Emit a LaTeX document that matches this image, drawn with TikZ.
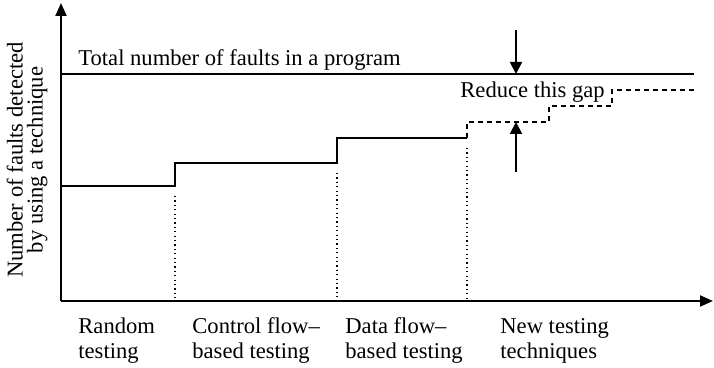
\documentclass[tikz,border=0pt]{standalone}
\usepackage{fontspec}
\setmainfont{Liberation Serif}
\usetikzlibrary{arrows.meta,positioning}

\begin{document}
\begin{tikzpicture}[
  x=0.5pt, y=-0.5pt,
  axis/.style={line width=1pt, -{Triangle[length=6.5pt,width=5.5pt]}},
  level/.style={line width=1pt},
  newlevel/.style={line width=0.9pt, dash pattern=on 2.5pt off 2pt},
  split/.style={line width=0.8pt, dash pattern=on 0.6pt off 1.6pt},
  gaparrow/.style={line width=1pt, -{Triangle[length=6pt,width=6pt]}},
  lbl/.style={font=\fontsize{11.3}{12.5}\selectfont, inner sep=0pt, align=left, anchor=base west}
]
  \useasboundingbox (0,0) rectangle (714,368);

  % Axes
  \coordinate (origin) at (61,301);
  \coordinate (ytop) at (61,3);
  \coordinate (xend) at (713,301);
  \draw[axis] (origin) -- (ytop);
  \draw[axis] (origin) -- (xend);
  \node[lbl, rotate=90, align=center, anchor=center,
        font=\fontsize{11.3}{10}\selectfont] (ylabel) at (27,160)
    {Number of faults detected\\by using a technique};

  % Total number of faults
  \coordinate (tot0) at (61,74);
  \coordinate (tot1) at (694,74);
  \draw[level] (tot0) -- (tot1);
  \node[lbl] (total) at (78,66) {Total number of faults in a program};

  % Steps of known techniques
  \coordinate (s0) at (61,186);
  \coordinate (s1) at (175,186);
  \coordinate (s2) at (175,163);
  \coordinate (s3) at (337,163);
  \coordinate (s4) at (337,138);
  \coordinate (s5) at (467,138);
  \draw[level] (s0) -- (s1) -- (s2) -- (s3) -- (s4) -- (s5);

  % New techniques
  \coordinate (n1) at (467,122);
  \coordinate (n2) at (549,122);
  \coordinate (n3) at (549,106);
  \coordinate (n4) at (612,106);
  \coordinate (n5) at (612,90);
  \coordinate (n6) at (694,90);
  \draw[newlevel] (s5) -- (n1) -- (n2) -- (n3) -- (n4) -- (n5) -- (n6);

  % Boundaries between techniques
  \coordinate (d1) at (175,301);
  \coordinate (d2) at (337,301);
  \coordinate (d3) at (467,301);
  \draw[split] ([yshift=-5pt]s1) -- (d1);
  \draw[split] ([yshift=-5pt]s3) -- (d2);
  \draw[split] ([yshift=-5pt]s5) -- (d3);

  % Gap
  \coordinate (gtop) at (516,30);
  \coordinate (gbot) at (516,172);
  \draw[gaparrow] (gtop) -- (516,74);
  \draw[gaparrow] (gbot) -- (516,122);
  \node[lbl] (gap) at (460,98) {Reduce this gap};

  % Technique names (base is the last line)
  \node[lbl] (random) at (78,359) {Random\\testing};
  \node[lbl] (control) at (192,359) {Control flow--\\based testing};
  \node[lbl] (data) at (345,359) {Data flow--\\based testing};
  \node[lbl] (new) at (500,359) {New testing\\techniques};
\end{tikzpicture}
\end{document}
